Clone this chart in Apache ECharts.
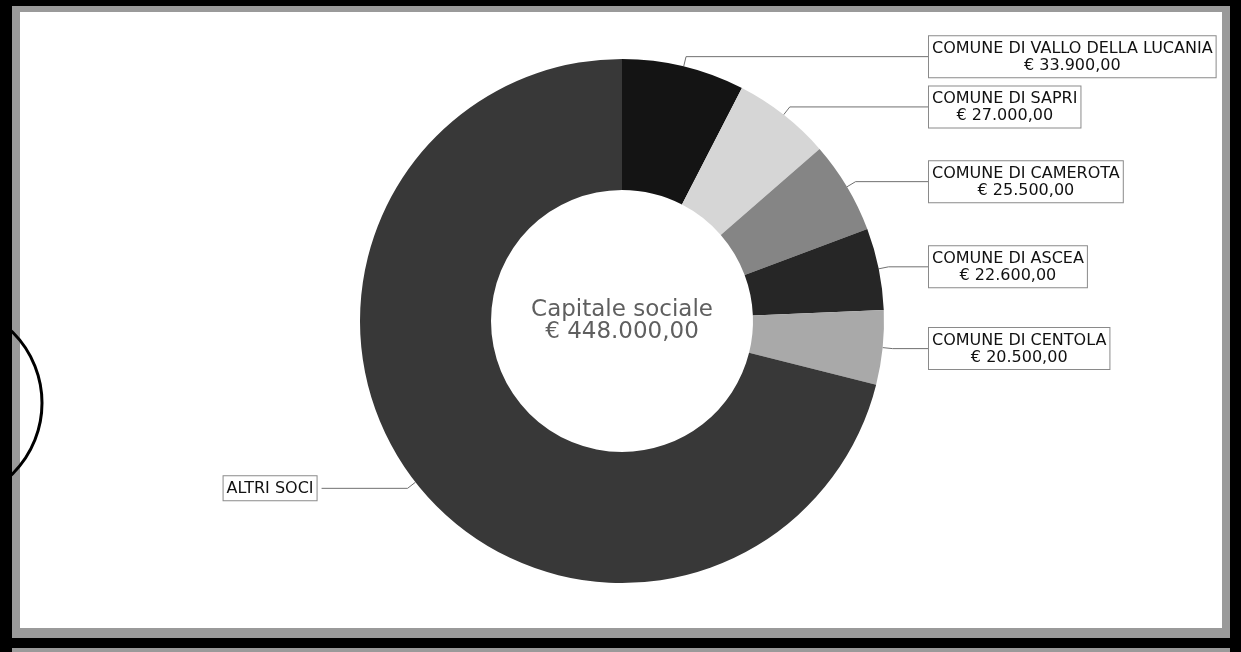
<!DOCTYPE html>
<html>
<head>
<meta charset="utf-8">
<script src="https://cdn.jsdelivr.net/npm/echarts@6/dist/echarts.min.js"></script>
<style>
html,body{margin:0;padding:0;background:#fff;}
#chart{width:1241px;height:652px;}
</style>
</head>
<body>
<div id="chart"></div>
<script>
// ---- data ----
const categories = [
  'COMUNE DI VALLO DELLA LUCANIA',
  'COMUNE DI SAPRI',
  'COMUNE DI CAMEROTA',
  'COMUNE DI ASCEA',
  'COMUNE DI CENTOLA',
  'ALTRI SOCI'
];
const values = [33900, 27000, 25500, 22600, 20500, 318500];
const showValue = [true, true, true, true, true, false];
const centerCaption = 'Capitale sociale';
const totalCapital = 448000;

// ---- layout / styles ----
const PIE_CX = 622, PIE_CY = 321, R_IN = 131, R_OUT = 262;
const LINE_LEN = 10, LINE_LEN2 = 34, LINE_LEN2_LEFT = 86;
const sliceColors = ['#141414', '#d6d6d6', '#858585', '#262626', '#a9a9a9', '#383838'];

function euro(v) {
  const parts = v.toFixed(2).split('.');
  const intPart = parts[0].replace(/\B(?=(\d{3})+(?!\d))/g, '.');
  return '€ ' + intPart + ',' + parts[1];
}

const seriesData = categories.map((name, i) => {
  const item = { name: name, value: values[i], itemStyle: { color: sliceColors[i] } };
  if (i === categories.length - 1) {
    item.labelLine = { length2: LINE_LEN2_LEFT };
  }
  return item;
});

const chart = echarts.init(document.getElementById('chart'), null, { renderer: 'canvas' });

const frame = [
  { type: 'rect', shape: { x: 0, y: 0, width: 1241, height: 652 }, style: { fill: '#9a9a9a' }, z: -10, silent: true },
  { type: 'rect', shape: { x: 0, y: 0, width: 1241, height: 6 }, style: { fill: '#000' }, z: -9, silent: true },
  { type: 'rect', shape: { x: 0, y: 0, width: 12, height: 652 }, style: { fill: '#000' }, z: -9, silent: true },
  { type: 'rect', shape: { x: 1230, y: 0, width: 11, height: 652 }, style: { fill: '#000' }, z: -9, silent: true },
  { type: 'rect', shape: { x: 0, y: 638, width: 1241, height: 10 }, style: { fill: '#000' }, z: -9, silent: true },
  { type: 'rect', shape: { x: 20, y: 12, width: 1202, height: 616 }, style: { fill: '#fff' }, z: -8, silent: true },
  { type: 'circle', shape: { cx: -58, cy: 403, r: 100 }, style: { fill: 'none', stroke: '#000', lineWidth: 3 }, z: 5, silent: true }
];

chart.setOption({
  animation: false,
  backgroundColor: 'transparent',
  graphic: frame.concat([{
    type: 'text',
    x: PIE_CX, y: PIE_CY,
    style: {
      text: centerCaption + '\n' + euro(totalCapital),
      x: 0, y: 0,
      align: 'center',
      verticalAlign: 'middle',
      font: '23px "DejaVu Sans"',
      lineHeight: 22,
      fill: '#5f5f5f'
    },
    z: 10,
    silent: true
  }]),
  series: [{
    type: 'pie',
    center: [PIE_CX, PIE_CY],
    radius: [R_IN, R_OUT],
    startAngle: 90,
    clockwise: true,
    avoidLabelOverlap: true,
    silent: true,
    itemStyle: { borderWidth: 0 },
    label: {
      show: true,
      position: 'outside',
      backgroundColor: '#fff',
      borderColor: '#8a8a8a',
      borderWidth: 1,
      padding: [4, 3, 3, 3],
      fontFamily: 'DejaVu Sans',
      fontSize: 16,
      lineHeight: 17,
      color: '#111',
      formatter: function (p) {
        if (!showValue[p.dataIndex]) return '{c|' + p.name + '}';
        return '{c|' + p.name + '}\n{c|' + euro(p.value) + '}';
      },
      rich: {
        c: { align: 'center', fontFamily: 'DejaVu Sans', fontSize: 16, lineHeight: 17, color: '#111' }
      }
    },
    labelLine: {
      show: true,
      length: LINE_LEN,
      length2: LINE_LEN2,
      smooth: false,
      lineStyle: { color: '#707070', width: 1 }
    },
    labelLayout: function (params) {
      const pts = params.labelLinePoints;
      if (!pts) return {};
      if (pts[0][0] < PIE_CX) return {};
      const endX = PIE_CX + R_OUT + LINE_LEN + LINE_LEN2;
      return {
        x: endX + 1,
        labelLinePoints: [pts[0].slice(), pts[1].slice(), [endX, pts[2][1]]]
      };
    },
    data: seriesData
  }]
});
</script>
</body>
</html>
